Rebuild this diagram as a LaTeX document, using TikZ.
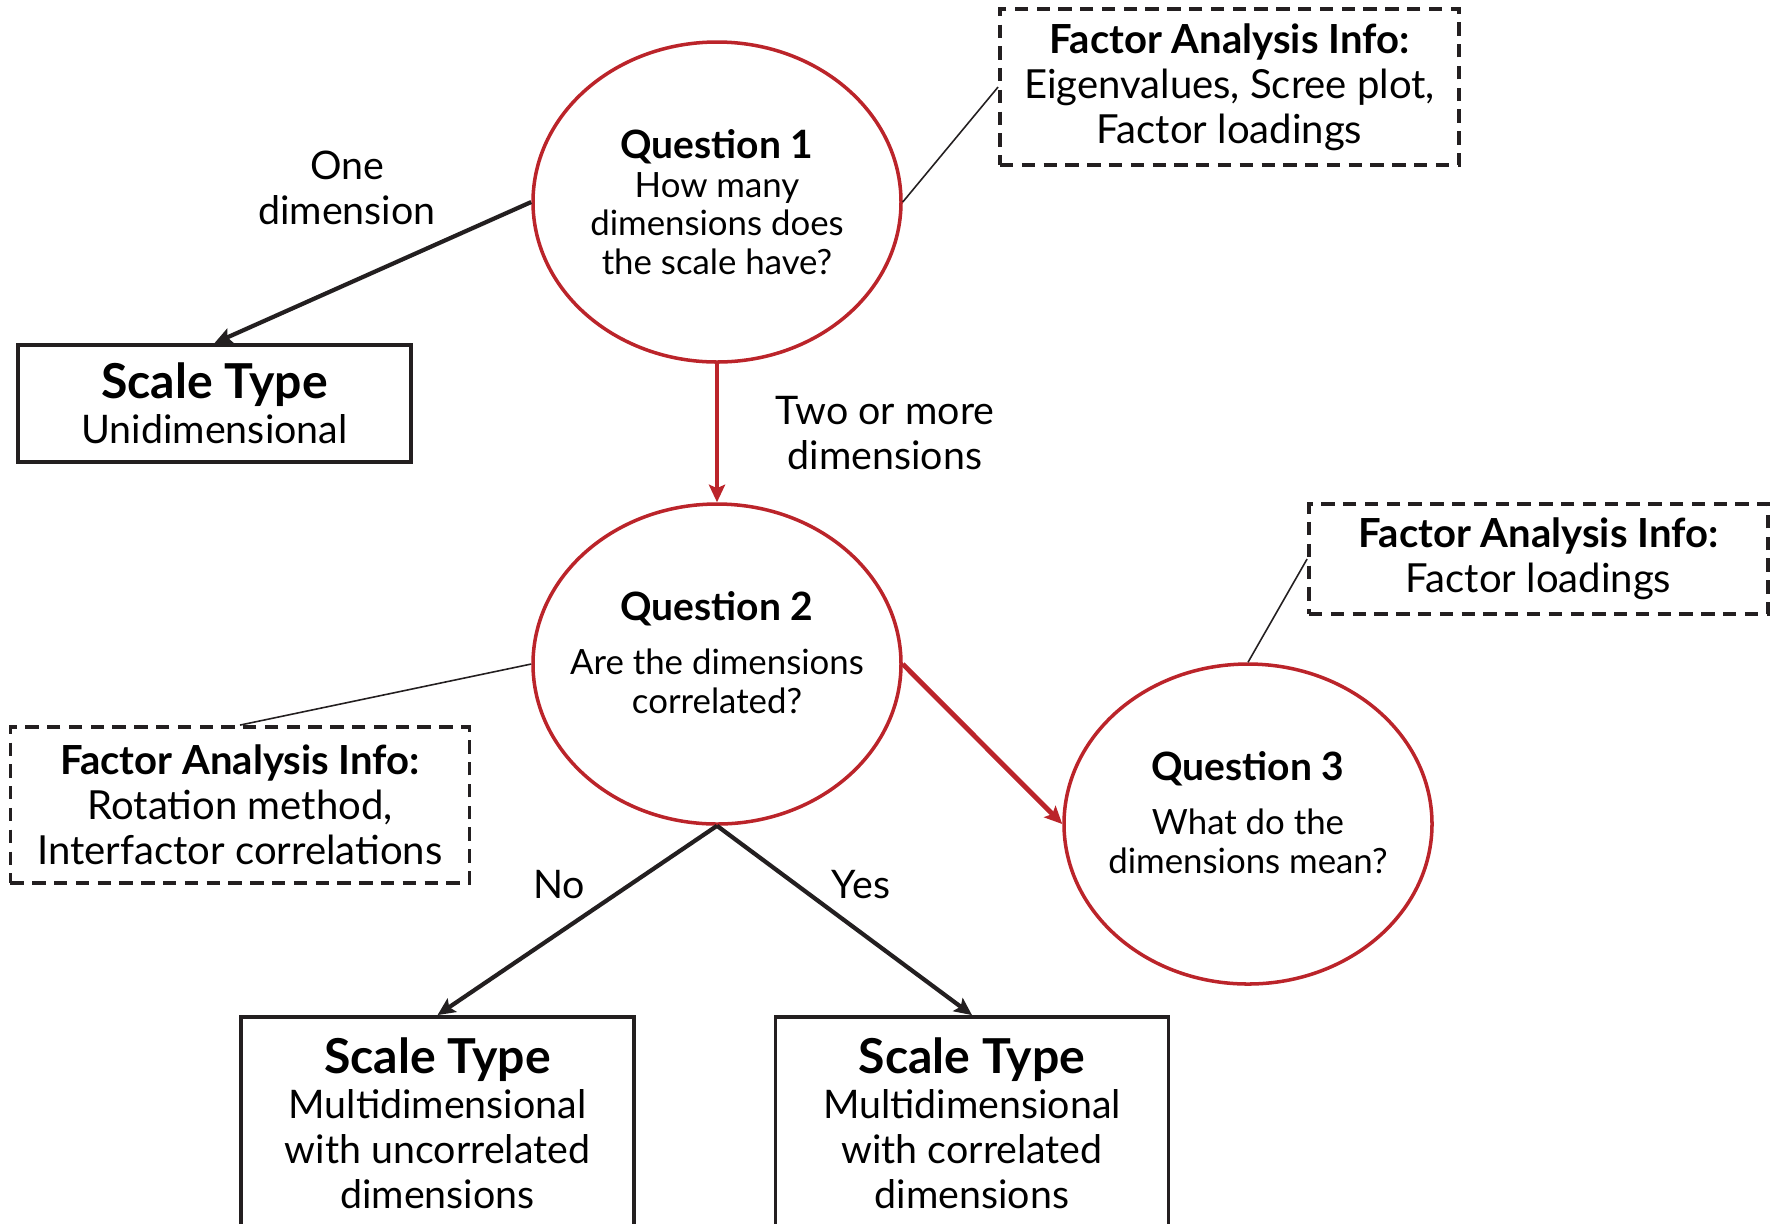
\documentclass[tikz,border=0pt]{standalone}
\usepackage{fontspec}
\setmainfont{Lato}
\usepackage{xcolor}
\usetikzlibrary{arrows.meta,positioning,shapes.geometric}
\definecolor{qred}{RGB}{187,36,42}
\definecolor{ink}{RGB}{35,31,32}

\begin{document}
\begin{tikzpicture}[
    question/.style={ellipse, draw=qred, line width=1pt,
                     minimum width=3.68cm, minimum height=3.20cm, inner sep=-0.4cm,
                     align=center, font=\fontsize{9.9}{11}\selectfont},
    scalebox/.style={rectangle, draw=ink, line width=1.1pt,
                     minimum width=3.93cm, align=center,
                     font=\fontsize{11.2}{12.8}\selectfont},
    infobox/.style={rectangle, draw=ink, line width=1.1pt,
                    dash pattern=on 3.8pt off 2.4pt,
                    minimum width=4.59cm, align=center,
                    font=\fontsize{11.4}{12.8}\selectfont},
    arr/.style={-{Stealth[length=5pt, width=4.6pt, inset=1pt]}, line width=1.2pt, draw=ink},
    redarr/.style={arr, draw=qred},
    link/.style={draw=ink, line width=0.45pt},
    lbl/.style={align=center, font=\fontsize{11.2}{12.8}\selectfont}
  ]
  \useasboundingbox (0,0) rectangle (17.79,-12.23);

  %% ── questions ───────────────────────────────────────────────────────
  \node[question] (q1) at (7.17,-2.02)
    {{\fontsize{11.1}{12}\selectfont\bfseries Question 1}\\How many\\dimensions does\\the scale have?};
  \node[question] (q2) at (7.17,-6.64)
    {{\fontsize{11.1}{12}\selectfont\bfseries Question 2}\\[4.5pt]Are the dimensions\\correlated?\\[-4.2pt]\mbox{}};
  \node[question] (q3) at (12.48,-8.24)
    {{\fontsize{11.1}{12}\selectfont\bfseries Question 3}\\[4.5pt]What do the\\dimensions mean?\\[-4.2pt]\mbox{}};

  %% ── scale types ─────────────────────────────────────────────────────
  \node[scalebox, minimum height=1.17cm] (uni)   at (2.145,-4.035)
    {{\fontsize{13.7}{14.5}\selectfont\bfseries Scale Type}\\Unidimensional};
  \node[scalebox, minimum height=2.13cm] (uncor) at (4.375,-11.235)
    {{\fontsize{13.7}{14.5}\selectfont\bfseries Scale Type}\\Multidimensional\\with uncorrelated\\dimensions};
  \node[scalebox, minimum height=2.13cm] (cor)   at (9.72,-11.235)
    {{\fontsize{13.7}{14.5}\selectfont\bfseries Scale Type}\\Multidimensional\\with correlated\\dimensions};

  %% ── factor analysis info ────────────────────────────────────────────
  \node[infobox, minimum height=1.56cm] (fa1) at (12.295,-0.87)
    {\textbf{Factor Analysis Info:}\\Eigenvalues, Scree plot,\\Factor loadings};
  \node[infobox, minimum height=1.10cm] (fa2) at (15.385,-5.59)
    {\textbf{Factor Analysis Info:}\\Factor loadings};
  \node[infobox, minimum height=1.56cm] (fa3) at (2.40,-8.05)
    {\textbf{Factor Analysis Info:}\\Rotation method,\\Interfactor correlations};

  %% ── connectors ──────────────────────────────────────────────────────
  \draw[arr]    (q1.west)  -- (uni.north);
  \draw[redarr] (q1.south) -- (q2.north);
  \draw[redarr, line width=1.4pt] (q2.east) -- (q3.west);
  \draw[arr]    (q2.south) -- (uncor.north);
  \draw[arr]    (q2.south) -- (cor.north);
  \draw[link]   (q1.east)  -- (fa1.west);
  \draw[link]   (q3.north) -- (fa2.west);
  \draw[link]   (q2.west)  -- (fa3.north);

  %% ── labels ──────────────────────────────────────────────────────────
  \node[lbl] (l1)  at (3.47,-1.88) {One\\dimension};
  \node[lbl] (l2)  at (8.85,-4.33) {Two or more\\dimensions};
  \node[lbl] (lno) at (5.59,-8.85) {No};
  \node[lbl] (lye) at (8.61,-8.85) {Yes};

\end{tikzpicture}
\end{document}
